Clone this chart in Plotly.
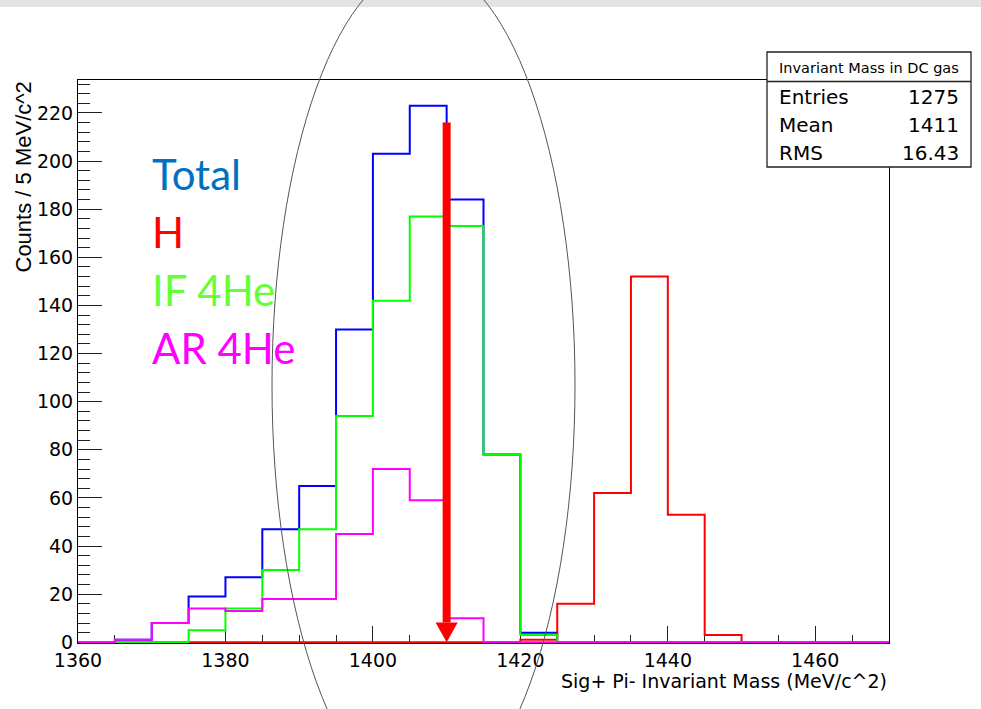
import plotly.graph_objects as go

# ---------------- data ----------------
bin_edges = [1360 + 5 * i for i in range(23)]  # 1360 .. 1470, 5 MeV bins
total = [0, 1, 8, 19, 27, 47, 65, 130, 203, 223, 184, 78, 4, 0, 0, 0, 0, 0, 0, 0, 0, 0]
h_only = [0, 0, 0, 0, 0, 0, 0, 0, 0, 0, 0, 0, 1, 16, 62, 152, 53, 3, 0, 0, 0, 0]
if_4he = [0, 0, 0, 5, 14, 30, 47, 94, 142, 177, 173, 78, 3, 0, 0, 0, 0, 0, 0, 0, 0, 0]
ar_4he = [0, 1, 8, 14, 13, 18, 18, 45, 72, 59, 10, 0, 0, 0, 0, 0, 0, 0, 0, 0, 0, 0]

legend_labels = ["Total", "H", "IF 4He", "AR 4He"]
legend_colors = ["#0070C0", "#FF0000", "#66FF33", "#FF00FF"]

stats_title = "Invariant Mass in DC gas"
stats_names = ["Entries", "Mean", "RMS"]
stats_values = ["1275", "1411", "16.43"]

arrow_x = 1410
arrow_top = 216
arrow_head_base = 8.2
arrow_head_halfwidth = 1.5

x_title = "Sig+ Pi- Invariant Mass (MeV/c^2)"
y_title = "Counts / 5 MeV/c^2"

# ---------------- layout geometry ----------------
W, H = 981, 709
L, R, T, B = 78, 92, 80, 66
PW, PH = W - L - R, H - T - B


def px(x):
    return (x - L) / PW


def py(y):
    return (H - B - y) / PH


def step(vals):
    xs = bin_edges[:-1] + [bin_edges[-1]]
    ys = list(vals) + [vals[-1]]
    return xs, ys


fig = go.Figure()
# draw order: total, H, IF, AR
for vals, col in [(total, "#0000FF"), (h_only, "#FF0000"), (if_4he, "#00FF00"), (ar_4he, "#FF00FF")]:
    xs, ys = step(vals)
    fig.add_trace(go.Scatter(x=xs, y=ys, mode="lines", line=dict(shape="hv", color=col, width=2),
                             showlegend=False, hoverinfo="skip"))

tickfont = dict(family="DejaVu Sans", size=19, color="black")
fig.update_xaxes(range=[1360, 1470], showline=True, mirror=True, linecolor="black", linewidth=1,
                 ticks="inside", ticklen=17, tickwidth=1, tickcolor="#222", dtick=20, tick0=1360,
                 minor=dict(dtick=5, ticklen=8, ticks="inside", tickcolor="#222", tickwidth=1),
                 showgrid=False, zeroline=False, tickfont=tickfont, layer="below traces")
fig.update_yaxes(range=[-0.3, 233.7], showline=True, mirror=True, linecolor="black", linewidth=1,
                 ticks="inside", ticklen=24, tickwidth=1, tickcolor="#222", dtick=20, tick0=0,
                 minor=dict(dtick=4, ticklen=12, ticks="inside", tickcolor="#222", tickwidth=1),
                 showgrid=False, zeroline=False, tickfont=tickfont, layer="below traces")

shapes = []
# top texture strip
shapes.append(dict(type="rect", xref="paper", yref="paper", x0=px(0), x1=px(W), y0=py(7), y1=py(0),
                   fillcolor="#e3e3e3", line=dict(width=0), layer="below"))
# ellipse
shapes.append(dict(type="circle", xref="paper", yref="paper", x0=px(272), x1=px(575), y0=py(805), y1=py(-35),
                   line=dict(color="#555", width=1)))
# arrow
shapes.append(dict(type="line", xref="x", yref="y", x0=arrow_x, x1=arrow_x, y0=arrow_head_base, y1=arrow_top,
                   line=dict(color="#FF0000", width=8)))
shapes.append(dict(type="path", xref="x", yref="y",
                   path=f"M {arrow_x - arrow_head_halfwidth},{arrow_head_base} L {arrow_x + arrow_head_halfwidth},{arrow_head_base} L {arrow_x},0 Z",
                   fillcolor="#FF0000", line=dict(width=0)))
# stats box
shapes.append(dict(type="rect", xref="paper", yref="paper", x0=px(767), x1=px(971), y0=py(167), y1=py(52),
                   fillcolor="white", line=dict(color="#222", width=1.3)))
shapes.append(dict(type="line", xref="paper", yref="paper", x0=px(767), x1=px(971), y0=py(81.5), y1=py(81.5),
                   line=dict(color="#222", width=1.3)))

annotations = []
# stats text
annotations.append(dict(text=stats_title, xref="paper", yref="paper", x=px(869), y=py(68), xanchor="center",
                        yanchor="middle", showarrow=False, font=dict(family="DejaVu Sans", size=14.5, color="black")))
for i, (n, v) in enumerate(zip(stats_names, stats_values)):
    yy = 97 + i * 28
    annotations.append(dict(text=n, xref="paper", yref="paper", x=px(777), y=py(yy), xanchor="left",
                            yanchor="middle", showarrow=False, font=dict(family="DejaVu Sans", size=20, color="black")))
    annotations.append(dict(text=v, xref="paper", yref="paper", x=px(961), y=py(yy), xanchor="right",
                            yanchor="middle", showarrow=False, font=dict(family="DejaVu Sans", size=20, color="black")))
# legend text
for i, (lab, col) in enumerate(zip(legend_labels, legend_colors)):
    yy = 174 + i * 58
    annotations.append(dict(text=lab, xref="paper", yref="paper", x=px(150), y=py(yy), xanchor="left",
                            yanchor="middle", showarrow=False, font=dict(family="Lato", size=42, color=col)))
# axis titles
annotations.append(dict(text=x_title, xref="paper", yref="paper", x=px(889), y=py(681), xanchor="right",
                        yanchor="middle", showarrow=False, font=dict(family="DejaVu Sans", size=19, color="black")))
annotations.append(dict(text=y_title, xref="paper", yref="paper", x=px(23), y=py(80), xanchor="center",
                        yanchor="top", textangle=-90, showarrow=False,
                        font=dict(family="Liberation Sans", size=22, color="black")))

fig.update_layout(width=W, height=H, margin=dict(l=L, r=R, t=T, b=B), paper_bgcolor="white",
                  plot_bgcolor="white", shapes=shapes, annotations=annotations, showlegend=False)

fig.write_html("out.html")
